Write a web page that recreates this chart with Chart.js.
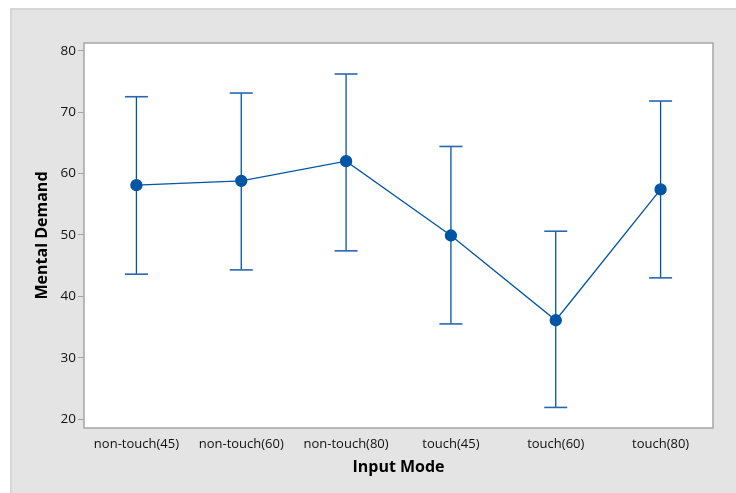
<!DOCTYPE html>
<html>
<head>
<meta charset="utf-8">
<script src="https://cdn.jsdelivr.net/npm/chart.js@4/dist/chart.umd.min.js"></script>
<style>
  html, body { margin: 0; padding: 0; background: #fff; overflow: hidden; }
  canvas { display: block; }
</style>
</head>
<body>
<canvas id="intervalChart" width="736" height="493"></canvas>
<script>
// categories and values
var modes = ['non-touch(45)', 'non-touch(60)', 'non-touch(80)', 'touch(45)', 'touch(60)', 'touch(80)'];
var means = [58.1, 58.8, 62.0, 49.9, 36.1, 57.4];
var lowers = [43.6, 44.3, 47.4, 35.5, 21.9, 43.0];
var uppers = [72.5, 73.1, 76.2, 64.4, 50.6, 71.8];
var yTicks = [20, 30, 40, 50, 60, 70, 80];

var blue = '#0055a5';
var fontFam = '"Open Sans", "DejaVu Sans", sans-serif';

// fundo cinza da moldura + area branca do grafico
var frame = {
    id: 'frame',
    beforeDraw: function(chart) {
        var c = chart.ctx, a = chart.chartArea;
        c.save();
        c.fillStyle = '#ffffff';
        c.fillRect(0, 0, chart.width, chart.height);
        c.fillStyle = '#e4e4e4';
        c.fillRect(10, 8, chart.width - 10, chart.height - 8);
        c.fillStyle = '#d6d6d6';
        c.fillRect(10, 8, chart.width - 10, 2);
        c.fillRect(10, 8, 2, chart.height - 8);
        c.fillStyle = '#ffffff';
        c.fillRect(a.left, a.top, a.right - a.left, a.bottom - a.top);
        c.restore();
    },
    afterDraw: function(chart) {
        var c = chart.ctx, a = chart.chartArea;
        c.save();
        c.strokeStyle = '#a6a6a6';
        c.lineWidth = 1.5;
        c.strokeRect(a.left, a.top, a.right - a.left, a.bottom - a.top);
        c.restore();
    }
};

var datasets = [];
// one small dataset per interval: vertical line with caps
for (var i = 0; i < modes.length; i++) {
    datasets.push({
        type: 'line',
        data: [{ x: modes[i], y: lowers[i] }, { x: modes[i], y: uppers[i] }],
        borderColor: blue,
        borderWidth: 1.3,
        pointStyle: 'line',
        pointRadius: 11.5,
        pointBorderWidth: 1.6,
        pointBorderColor: '#2a66b0',
        pointHoverRadius: 11.5
    });
}
datasets.push({
    type: 'line',
    data: means,
    borderColor: blue,
    borderWidth: 1.3,
    pointBackgroundColor: blue,
    pointBorderColor: blue,
    pointRadius: 5.5,
    pointHoverRadius: 5.5,
    tension: 0
});

var ctx = document.getElementById('intervalChart').getContext('2d');
var chart = new Chart(ctx, {
    type: 'line',
    data: { labels: modes, datasets: datasets },
    options: {
        responsive: false,
        animation: false,
        layout: { padding: { left: 0, top: 43, right: 23, bottom: 0 } },
        plugins: { legend: { display: false }, tooltip: { enabled: false } },
        scales: {
            x: {
                type: 'category',
                offset: true,
                grid: { display: false, drawOnChartArea: false, drawTicks: true, tickLength: 5, color: '#a6a6a6', offset: false },
                border: { display: false },
                ticks: { color: '#111', font: { family: fontFam, size: 13 }, padding: 3, maxRotation: 0, autoSkip: false },
                title: { display: true, text: 'Input Mode', color: '#000', font: { family: fontFam, size: 16, weight: 'bold' }, padding: { top: 16, bottom: 16 } },
                afterFit: function(s) { s.height = 65; }
            },
            y: {
                min: 18.55,
                max: 81.25,
                grid: { display: true, drawOnChartArea: false, drawTicks: true, tickLength: 6, color: '#a6a6a6' },
                border: { display: false },
                afterBuildTicks: function(s) { s.ticks = yTicks.map(function(v) { return { value: v }; }); },
                ticks: { color: '#111', font: { family: fontFam, size: 13.5 }, padding: 2 },
                title: { display: true, text: 'Mental Demand', color: '#000', font: { family: fontFam, size: 16, weight: 'bold' }, padding: { top: 33, bottom: 33 } },
                afterFit: function(s) { s.width = 84; }
            }
        }
    },
    plugins: [frame]
});
</script>
</body>
</html>
